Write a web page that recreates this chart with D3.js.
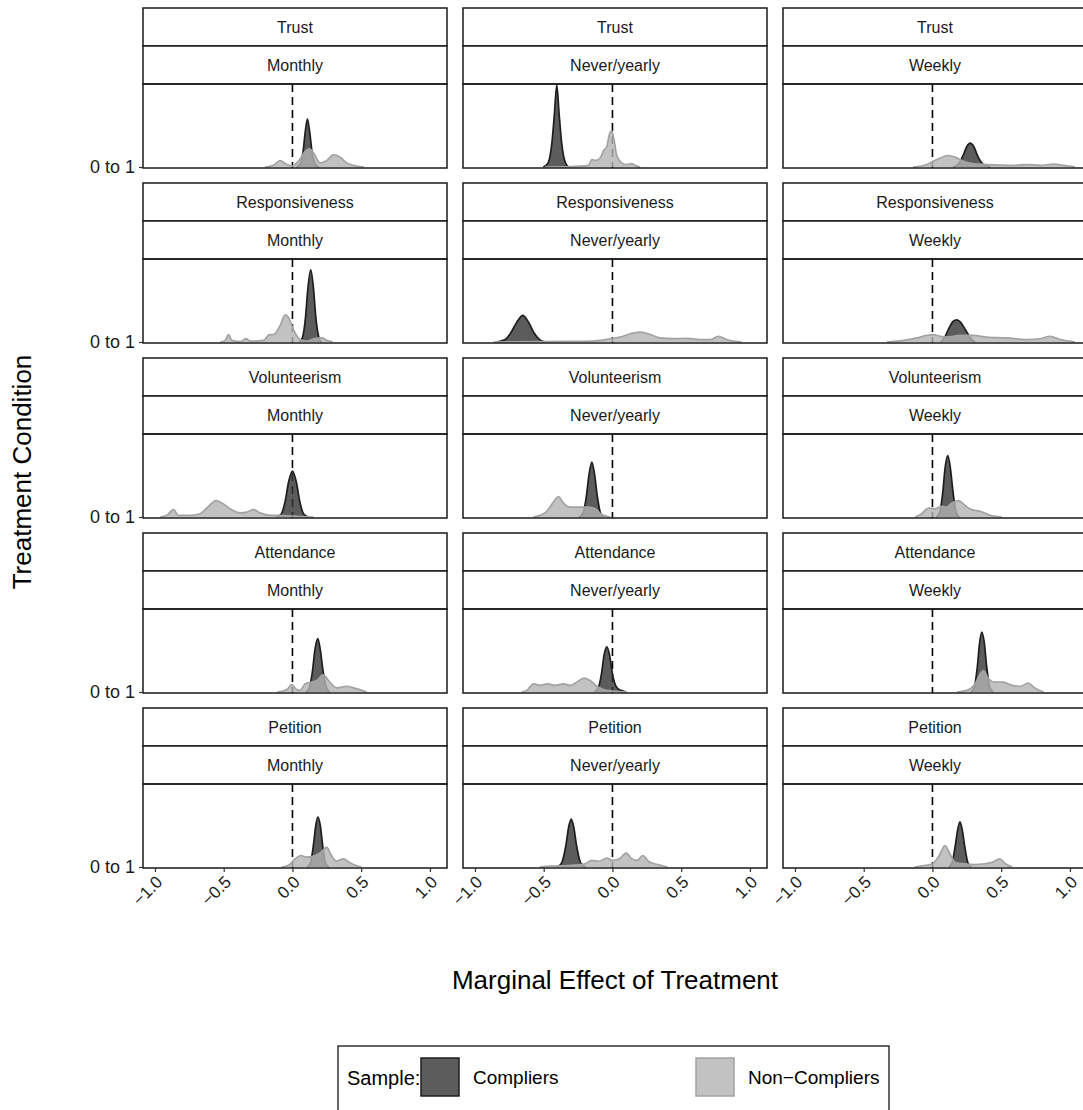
<!DOCTYPE html>
<html>
<head>
<meta charset="utf-8">
<script src="https://cdn.jsdelivr.net/npm/d3@7"></script>
<style>
  body { margin: 0; background: #fff; }
  svg { display: block; font-family: "Liberation Sans", Arial, sans-serif; }
</style>
</head>
<body>
<svg id="chart"></svg>
<script>
// facet labels
const outcomes = ["Trust", "Responsiveness", "Volunteerism", "Attendance", "Petition"];
const frequencies = ["Monthly", "Never/yearly", "Weekly"];
const xTicks = [-1, -0.5, 0, 0.5, 1];
const yTickLabel = "0 to 1";
const samples = ["Compliers", "Non\u2212Compliers"];

// ridge outlines: [marginal effect, scaled density]
const trustMonthlyC = [[0.03,0],[0.053,0.03],[0.076,0.17],[0.093,0.43],[0.109,0.585],[0.125,0.43],[0.145,0.15],[0.168,0.03],[0.191,0]];
const trustMonthlyN = [[-0.2,0],[-0.14,0.02],[-0.09,0.077],[-0.04,0.03],[0.0,0.015],[0.056,0.1],[0.092,0.19],[0.124,0.22],[0.158,0.16],[0.2,0.05],[0.25,0.08],[0.298,0.147],[0.347,0.12],[0.395,0.05],[0.444,0.02],[0.52,0]];
const trustNeverC = [[-0.503,0],[-0.468,0.05],[-0.44,0.3],[-0.422,0.65],[-0.405,1.0],[-0.388,0.65],[-0.37,0.3],[-0.342,0.05],[-0.319,0]];
const trustNeverN = [[-0.49,0],[-0.3,0.005],[-0.175,0.02],[-0.15,0.09],[-0.126,0.08],[-0.09,0.11],[-0.065,0.2],[-0.041,0.25],[-0.022,0.4],[-0.005,0.44],[0.012,0.33],[0.03,0.15],[0.068,0.05],[0.104,0.03],[0.141,0.04],[0.165,0.02],[0.2,0]];
const trustWeeklyC = [[0.15,0],[0.19,0.04],[0.22,0.13],[0.25,0.25],[0.274,0.29],[0.3,0.25],[0.33,0.13],[0.37,0.03],[0.42,0]];
const trustWeeklyN = [[-0.14,0],[-0.041,0.03],[0.03,0.09],[0.116,0.14],[0.165,0.12],[0.225,0.07],[0.3,0.04],[0.395,0.03],[0.589,0.02],[0.686,0.03],[0.783,0.02],[0.88,0.035],[0.953,0.02],[1.037,0]];

const respMonthlyC = [[0.049,0],[0.072,0.05],[0.095,0.3],[0.112,0.65],[0.133,0.88],[0.153,0.65],[0.17,0.3],[0.193,0.05],[0.21,0]];
const respMonthlyN = [[-0.526,0],[-0.49,0.02],[-0.465,0.09],[-0.44,0.02],[-0.38,0.005],[-0.337,0.04],[-0.308,0.01],[-0.21,0.02],[-0.167,0.09],[-0.138,0.09],[-0.09,0.2],[-0.053,0.33],[-0.029,0.3],[0.007,0.15],[0.056,0.03],[0.104,0.01],[0.153,0.04],[0.213,0.05],[0.25,0.02],[0.293,0]];
const respNeverC = [[-0.84,0],[-0.78,0.03],[-0.74,0.11],[-0.7,0.23],[-0.652,0.325],[-0.61,0.24],[-0.57,0.11],[-0.53,0.03],[-0.49,0]];
const respNeverN = [[-0.865,0],[-0.5,0.005],[-0.2,0.008],[-0.09,0.02],[-0.017,0.04],[0.056,0.06],[0.128,0.1],[0.2,0.12],[0.262,0.1],[0.347,0.05],[0.444,0.04],[0.54,0.045],[0.637,0.03],[0.71,0.03],[0.77,0.07],[0.83,0.03],[0.94,0]];
const respWeeklyC = [[0.06,0],[0.09,0.06],[0.12,0.17],[0.15,0.25],[0.177,0.27],[0.205,0.24],[0.24,0.15],[0.28,0.04],[0.31,0]];
const respWeeklyN = [[-0.332,0],[-0.21,0.02],[-0.114,0.05],[-0.041,0.08],[0.007,0.09],[0.056,0.07],[0.104,0.06],[0.2,0.08],[0.298,0.08],[0.395,0.06],[0.54,0.05],[0.686,0.03],[0.783,0.04],[0.855,0.07],[0.93,0.03],[1.037,0]];

const volMonthlyC = [[-0.115,0],[-0.08,0.04],[-0.052,0.2],[-0.029,0.42],[0,0.56],[0.029,0.42],[0.052,0.2],[0.08,0.04],[0.115,0]];
const volMonthlyN = [[-0.962,0],[-0.914,0.02],[-0.865,0.09],[-0.83,0.02],[-0.744,0.02],[-0.672,0.04],[-0.623,0.11],[-0.555,0.2],[-0.502,0.16],[-0.453,0.1],[-0.38,0.05],[-0.332,0.06],[-0.284,0.09],[-0.235,0.05],[-0.162,0.02],[-0.09,0.02],[0.007,0.01],[0.153,0]];
const volNeverC = [[-0.242,0],[-0.213,0.05],[-0.19,0.25],[-0.17,0.52],[-0.15,0.67],[-0.13,0.52],[-0.11,0.25],[-0.087,0.05],[-0.064,0]];
const volNeverN = [[-0.575,0],[-0.526,0.02],[-0.478,0.07],[-0.43,0.18],[-0.393,0.25],[-0.356,0.17],[-0.308,0.12],[-0.235,0.12],[-0.175,0.12],[-0.126,0.1],[-0.078,0.03],[-0.017,0]];
const volWeeklyC = [[0.029,0],[0.052,0.05],[0.075,0.3],[0.092,0.6],[0.112,0.75],[0.13,0.6],[0.15,0.3],[0.173,0.05],[0.196,0]];
const volWeeklyN = [[-0.126,0],[-0.078,0.04],[-0.029,0.11],[0.019,0.1],[0.068,0.13],[0.104,0.12],[0.141,0.17],[0.189,0.2],[0.238,0.14],[0.286,0.09],[0.347,0.07],[0.42,0.02],[0.504,0]];

const attMonthlyC = [[0.099,0],[0.122,0.05],[0.145,0.25],[0.164,0.52],[0.184,0.65],[0.202,0.52],[0.223,0.25],[0.248,0.05],[0.271,0]];
const attMonthlyN = [[-0.109,0],[-0.041,0.03],[-0.005,0.09],[0.03,0.03],[0.056,0.02],[0.092,0.1],[0.141,0.12],[0.177,0.14],[0.225,0.21],[0.262,0.14],[0.322,0.05],[0.395,0.07],[0.444,0.05],[0.54,0]];
const attNeverC = [[-0.132,0],[-0.103,0.05],[-0.08,0.22],[-0.061,0.45],[-0.041,0.55],[-0.021,0.45],[0.0,0.22],[0.029,0.06],[0.06,0.02],[0.1,0]];
const attNeverN = [[-0.66,0],[-0.623,0.02],[-0.575,0.1],[-0.526,0.08],[-0.473,0.1],[-0.417,0.08],[-0.356,0.1],[-0.308,0.08],[-0.26,0.12],[-0.206,0.17],[-0.162,0.14],[-0.114,0.07],[-0.065,0.03],[0.007,0.01],[0.104,0]];
const attWeeklyC = [[0.28,0],[0.303,0.05],[0.326,0.3],[0.343,0.6],[0.359,0.73],[0.377,0.6],[0.395,0.3],[0.418,0.05],[0.441,0]];
const attWeeklyN = [[0.177,0],[0.25,0.02],[0.31,0.1],[0.347,0.22],[0.371,0.26],[0.407,0.16],[0.456,0.12],[0.516,0.12],[0.577,0.08],[0.638,0.07],[0.698,0.11],[0.735,0.06],[0.807,0]];

const petMonthlyC = [[0.107,0],[0.131,0.05],[0.155,0.3],[0.169,0.5],[0.185,0.61],[0.203,0.5],[0.217,0.3],[0.239,0.05],[0.263,0]];
const petMonthlyN = [[-0.08,0],[-0.03,0.02],[0.02,0.1],[0.06,0.14],[0.1,0.12],[0.15,0.13],[0.2,0.17],[0.25,0.24],[0.28,0.15],[0.32,0.07],[0.37,0.1],[0.42,0.05],[0.5,0]];
const petNeverC = [[-0.404,0],[-0.369,0.05],[-0.34,0.25],[-0.317,0.5],[-0.3,0.585],[-0.283,0.5],[-0.26,0.25],[-0.231,0.05],[-0.196,0]];
const petNeverN = [[-0.53,0],[-0.45,0.01],[-0.3,0.02],[-0.2,0.04],[-0.15,0.08],[-0.1,0.07],[-0.04,0.11],[0.0,0.08],[0.05,0.1],[0.1,0.17],[0.14,0.1],[0.18,0.08],[0.22,0.14],[0.27,0.06],[0.33,0.03],[0.4,0]];
const petWeeklyC = [[0.12,0],[0.142,0.05],[0.165,0.25],[0.183,0.45],[0.2,0.55],[0.217,0.45],[0.235,0.25],[0.258,0.05],[0.28,0]];
const petWeeklyN = [[-0.13,0],[-0.05,0.02],[0.0,0.04],[0.05,0.14],[0.09,0.26],[0.13,0.15],[0.17,0.05],[0.22,0.04],[0.3,0.03],[0.38,0.04],[0.44,0.06],[0.49,0.1],[0.53,0.04],[0.58,0]];

// row = outcome, column = frequency
const ridges = [
  [[trustMonthlyC, trustMonthlyN], [trustNeverC, trustNeverN], [trustWeeklyC, trustWeeklyN]],
  [[respMonthlyC, respMonthlyN], [respNeverC, respNeverN], [respWeeklyC, respWeeklyN]],
  [[volMonthlyC, volMonthlyN], [volNeverC, volNeverN], [volWeeklyC, volWeeklyN]],
  [[attMonthlyC, attMonthlyN], [attNeverC, attNeverN], [attWeeklyC, attWeeklyN]],
  [[petMonthlyC, petMonthlyN], [petNeverC, petNeverN], [petWeeklyC, petWeeklyN]],
];

const svgWidth = 1083;
const svgHeight = 1110;
const left0 = 143, top0 = 8;
const panelW = 304, colGap = 16;
const stripH = 38, panelH = 84, rowStep = 175;

const fills = ["#333333", "#b3b3b3"];
const strokes = ["#1e1e1e", "#a3a3a3"];

const svg = d3.select("#chart").attr("width", svgWidth).attr("height", svgHeight);

const x = d3.scaleLinear().domain([-1.087, 1.124]).range([0, panelW]);
const y = d3.scaleLinear().domain([0, 1]).range([panelH - 1, 1]);

const area = d3.area().x((d) => x(d[0])).y0(y(0)).y1((d) => y(d[1])).curve(d3.curveMonotoneX);
const line = d3.line().x((d) => x(d[0])).y((d) => y(d[1])).curve(d3.curveMonotoneX);

const fmt = (d) => d3.format(".1f")(d).replace("-", "\u2212");

outcomes.forEach((outcome, r) => {
  frequencies.forEach((freq, c) => {
    const gx = left0 + c * (panelW + colGap);
    const gy = top0 + r * rowStep;
    const g = svg.append("g").attr("transform", `translate(${gx},${gy})`);

    // two stacked strips
    [outcome, freq].forEach((lab, i) => {
      g.append("rect")
        .attr("x", 0).attr("y", i * stripH)
        .attr("width", panelW).attr("height", stripH)
        .attr("fill", "#fff").attr("stroke", "#1a1a1a").attr("stroke-width", 1.5);
      g.append("text")
        .attr("x", panelW / 2).attr("y", i * stripH + stripH / 2)
        .attr("dy", "0.35em").attr("text-anchor", "middle")
        .attr("font-size", 16).attr("fill", "#1a1a1a")
        .text(lab);
    });

    const p = g.append("g").attr("transform", `translate(0,${2 * stripH})`);

    // zero reference line sits under the ridges
    p.append("line")
      .attr("x1", x(0)).attr("x2", x(0))
      .attr("y1", 0).attr("y2", panelH)
      .attr("stroke", "#000").attr("stroke-width", 1.6)
      .attr("stroke-dasharray", "8,5");

    ridges[r][c].forEach((pts, s) => {
      p.append("path").datum(pts)
        .attr("d", area)
        .attr("fill", fills[s]).attr("fill-opacity", 0.8);
      p.append("path").datum(pts)
        .attr("d", line)
        .attr("fill", "none").attr("stroke", strokes[s]).attr("stroke-width", 1.7);
    });

    p.append("rect")
      .attr("width", panelW).attr("height", panelH)
      .attr("fill", "none").attr("stroke", "#1a1a1a").attr("stroke-width", 1.5);

    // y axis on the first column only
    if (c === 0) {
      p.append("g")
        .call(d3.axisLeft(d3.scalePoint().domain([yTickLabel]).range([y(0), y(0)])).tickSize(4).tickPadding(4))
        .call((a) => a.select(".domain").remove())
        .call((a) => a.selectAll("line").attr("stroke", "#333").attr("stroke-width", 1.2))
        .call((a) => a.selectAll("text").attr("font-size", 18).attr("fill", "#1a1a1a")
          .attr("font-family", "Liberation Sans, Arial, sans-serif"));
    }

    // x axis on the bottom row only
    if (r === outcomes.length - 1) {
      const ax = p.append("g")
        .attr("transform", `translate(0,${panelH})`)
        .call(d3.axisBottom(x).tickValues(xTicks).tickSize(4).tickFormat(fmt));
      ax.select(".domain").remove();
      ax.selectAll("line").attr("stroke", "#333").attr("stroke-width", 1.2);
      ax.selectAll("text")
        .attr("font-size", 17).attr("fill", "#1a1a1a")
        .attr("font-family", "Liberation Sans, Arial, sans-serif")
        .attr("text-anchor", "end")
        .attr("y", 0).attr("dy", 0)
        .attr("transform", "translate(8,15) rotate(-45)");
    }
  });
});

// axis titles
svg.append("text")
  .attr("x", left0 + (3 * panelW + 2 * colGap) / 2).attr("y", 989)
  .attr("text-anchor", "middle").attr("font-size", 26).attr("fill", "#000")
  .text("Marginal Effect of Treatment");

svg.append("text")
  .attr("transform", "translate(31,472) rotate(-90)")
  .attr("text-anchor", "middle").attr("font-size", 26).attr("fill", "#000")
  .text("Treatment Condition");

// legend
const lg = svg.append("g").attr("transform", "translate(338,1046)");
lg.append("rect").attr("width", 551).attr("height", 70)
  .attr("fill", "#fff").attr("stroke", "#000").attr("stroke-width", 1.2);
lg.append("text").attr("x", 9).attr("y", 32).attr("dy", "0.35em")
  .attr("font-size", 20).text("Sample:");
const keyX = [82, 357];
samples.forEach((s, i) => {
  lg.append("rect").attr("x", keyX[i] + 1).attr("y", 12).attr("width", 38).attr("height", 38)
    .attr("fill", fills[i]).attr("fill-opacity", 0.8)
    .attr("stroke", strokes[i]).attr("stroke-width", 1.5);
  lg.append("text").attr("x", keyX[i] + 53).attr("y", 31).attr("dy", "0.35em")
    .attr("font-size", 19).text(s);
});
</script>
</body>
</html>
